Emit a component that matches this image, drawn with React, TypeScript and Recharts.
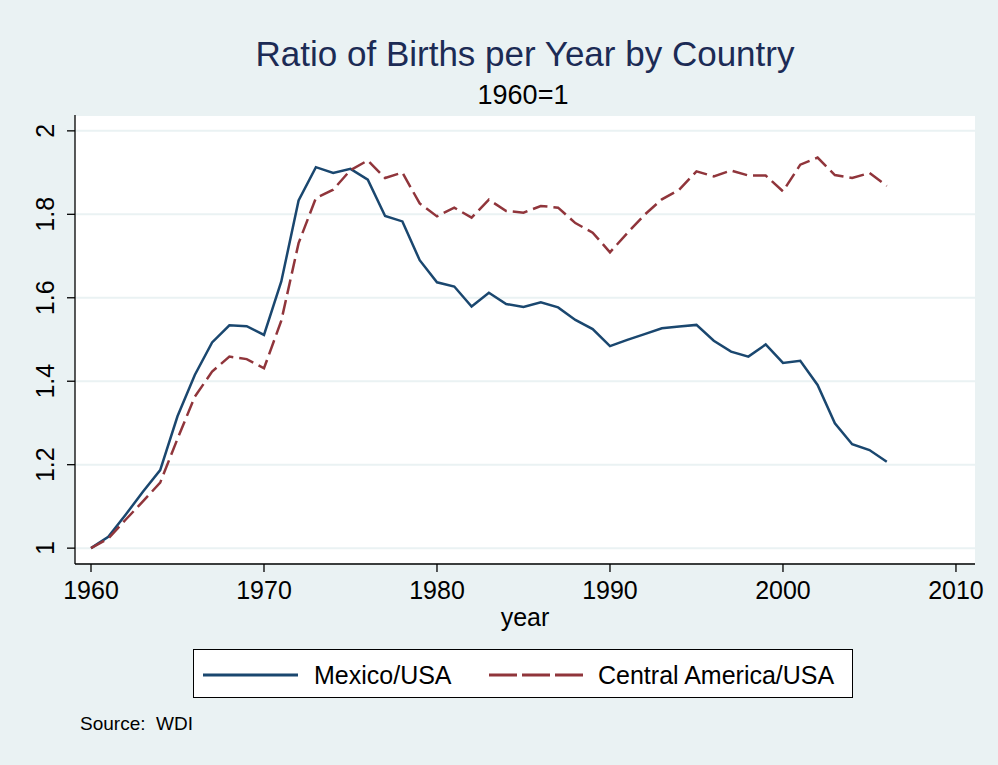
import { CartesianGrid, Legend, Line, LineChart, XAxis, YAxis } from "recharts";

const FONT = '"Liberation Sans", Arial, sans-serif';
const BG = "#EAF2F3";
const BLUE = "#1A476F";
const RED = "#90353B";

const years = [
  1960, 1961, 1962, 1963, 1964, 1965, 1966, 1967, 1968, 1969,
  1970, 1971, 1972, 1973, 1974, 1975, 1976, 1977, 1978, 1979,
  1980, 1981, 1982, 1983, 1984, 1985, 1986, 1987, 1988, 1989,
  1990, 1991, 1992, 1993, 1994, 1995, 1996, 1997, 1998, 1999,
  2000, 2001, 2002, 2003, 2004, 2005, 2006,
];

const mexico = [
  1.0, 1.027, 1.08, 1.135, 1.187, 1.316, 1.415, 1.493, 1.534, 1.532,
  1.511, 1.639, 1.833, 1.913, 1.899, 1.909, 1.883, 1.796, 1.783, 1.69,
  1.637, 1.627, 1.579, 1.612, 1.585, 1.578, 1.589, 1.577, 1.547, 1.525,
  1.484, 1.499, 1.513, 1.527, 1.531, 1.535, 1.497, 1.471, 1.459, 1.488,
  1.444, 1.449, 1.391, 1.299, 1.249, 1.235, 1.207,
];

const centralAmerica = [
  1.0, 1.023, 1.068, 1.112, 1.157, 1.262, 1.363, 1.423, 1.459, 1.453,
  1.431, 1.545, 1.731, 1.839, 1.859, 1.906, 1.929, 1.887, 1.9, 1.826,
  1.795, 1.816, 1.792, 1.835, 1.808, 1.804, 1.82, 1.816, 1.779, 1.756,
  1.709, 1.755, 1.799, 1.836, 1.859, 1.903, 1.891, 1.905, 1.893, 1.893,
  1.855, 1.919, 1.936, 1.894, 1.887, 1.899, 1.868,
];

const xTicks = [1960, 1970, 1980, 1990, 2000, 2010];
const yTicks = [1, 1.2, 1.4, 1.6, 1.8, 2];
const yLabels = ["1", "1.2", "1.4", "1.6", "1.8", "2"];

const data = years.map((year, i) => ({
  year,
  mexico: mexico[i],
  central: centralAmerica[i],
}));

function YTick({ y, index }: any) {
  return (
    <text
      x={45}
      y={y}
      transform={`rotate(-90, 45, ${y})`}
      textAnchor="middle"
      dominantBaseline="central"
      fontSize={25}
      fontFamily={FONT}
      fill="#000"
    >
      {yLabels[index]}
    </text>
  );
}

function LegendBox() {
  return (
    <div
      style={{
        width: 660,
        height: 49,
        background: "#fff",
        border: "1px solid #000",
        boxSizing: "border-box",
      }}
    >
      <svg width={658} height={47} style={{ display: "block" }}>
        <line x1={9} x2={104} y1={25} y2={25} stroke={BLUE} strokeWidth={3} />
        <text x={120} y={34} fontSize={25} fontFamily={FONT} fill="#000">
          Mexico/USA
        </text>
        <line
          x1={295}
          x2={390}
          y1={25}
          y2={25}
          stroke={RED}
          strokeWidth={3}
          strokeDasharray="28 5"
        />
        <text x={404} y={34} fontSize={25} fontFamily={FONT} fill="#000">
          Central America/USA
        </text>
      </svg>
    </div>
  );
}

export default function App() {
  return (
    <div
      style={{
        position: "relative",
        width: 998,
        height: 765,
        background: BG,
        fontFamily: FONT,
      }}
    >
      <style>{"body{margin:0}"}</style>
      <LineChart
        width={998}
        height={765}
        data={data}
        margin={{ top: 115, right: 23, left: 0, bottom: 0 }}
      >
        <CartesianGrid
          vertical={false}
          fill="#ffffff"
          fillOpacity={1}
          stroke={BG}
          strokeWidth={2}
        />
        <XAxis
          dataKey="year"
          type="number"
          domain={[1959.075, 2011.1]}
          ticks={xTicks}
          allowDataOverflow
          height={201}
          tickSize={8}
          tickMargin={9}
          axisLine={{ stroke: "#000", strokeWidth: 1.3 }}
          tickLine={{ stroke: "#000", strokeWidth: 1.3 }}
          tick={{ fill: "#000", fontSize: 25, fontFamily: FONT }}
          label={{
            value: "year",
            position: "insideTop",
            offset: 44,
            fill: "#000",
            fontSize: 25,
            fontFamily: FONT,
          }}
        />
        <YAxis
          type="number"
          domain={[0.962, 2.038]}
          ticks={yTicks}
          allowDataOverflow
          width={75}
          tickSize={8}
          axisLine={{ stroke: "#000", strokeWidth: 1.3 }}
          tickLine={{ stroke: "#000", strokeWidth: 1.3 }}
          tick={<YTick />}
        />
        <Legend
          layout="horizontal"
          verticalAlign="middle"
          content={() => <LegendBox />}
          wrapperStyle={{ left: 193, top: 649, width: 660, height: 49 }}
        />
        <Line
          type="linear"
          dataKey="mexico"
          name="Mexico/USA"
          stroke={BLUE}
          strokeWidth={2.5}
          dot={false}
          isAnimationActive={false}
        />
        <Line
          type="linear"
          dataKey="central"
          name="Central America/USA"
          stroke={RED}
          strokeWidth={2.5}
          strokeDasharray="15 6"
          dot={false}
          isAnimationActive={false}
        />
      </LineChart>
      <svg
        width={998}
        height={765}
        style={{ position: "absolute", left: 0, top: 0, pointerEvents: "none" }}
      >
        <text x={525} y={66} textAnchor="middle" fontSize={35} fontFamily={FONT} fill="#1C2B55">
          Ratio of Births per Year by Country
        </text>
        <text x={523} y={104} textAnchor="middle" fontSize={27} fontFamily={FONT} fill="#000">
          1960=1
        </text>
        <text x={80} y={730} fontSize={19} fontFamily={FONT} fill="#000" style={{ whiteSpace: "pre" }}>
          Source:  WDI
        </text>
      </svg>
    </div>
  );
}
